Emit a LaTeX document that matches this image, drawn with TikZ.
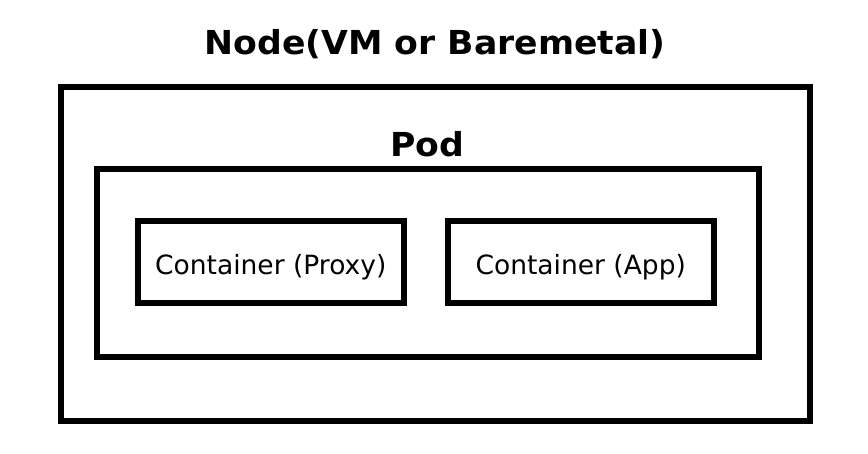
\documentclass[tikz,border=0pt]{standalone}
\usepackage{fontspec}
\setmainfont{DejaVu Sans}
\newfontfamily\titlefont[FakeStretch=1.05]{DejaVu Sans}
\begin{document}
\begin{tikzpicture}[x=1pt,y=-1pt,
  box/.style={draw=black,line width=6pt,fill=none,inner sep=0pt,outer sep=0pt},
  title/.style={font=\titlefont\fontsize{33}{40}\selectfont\bfseries,anchor=base,inner sep=0pt},
  ctext/.style={font=\fontsize{26.5}{32}\selectfont,text height=30pt,text depth=4.5pt}]
\useasboundingbox (0,0) rectangle (868,454);
\node[box,minimum width=749pt,minimum height=334pt] (nodebox) at (435.5,254) {};
\node[box,minimum width=662pt,minimum height=188pt] (podbox) at (428,263) {};
\node[box,ctext,minimum width=265.5pt,minimum height=82.5pt] (proxy) at (270.75,262.25) {Container (Proxy)};
\node[box,ctext,minimum width=265.5pt,minimum height=82.5pt] (app) at (580.75,262.25) {Container (App)};
\node[title] (nodetitle) at (435,55) {Node(VM or Baremetal)};
\node[title] (podtitle) at (427,157) {Pod};
\end{tikzpicture}
\end{document}
